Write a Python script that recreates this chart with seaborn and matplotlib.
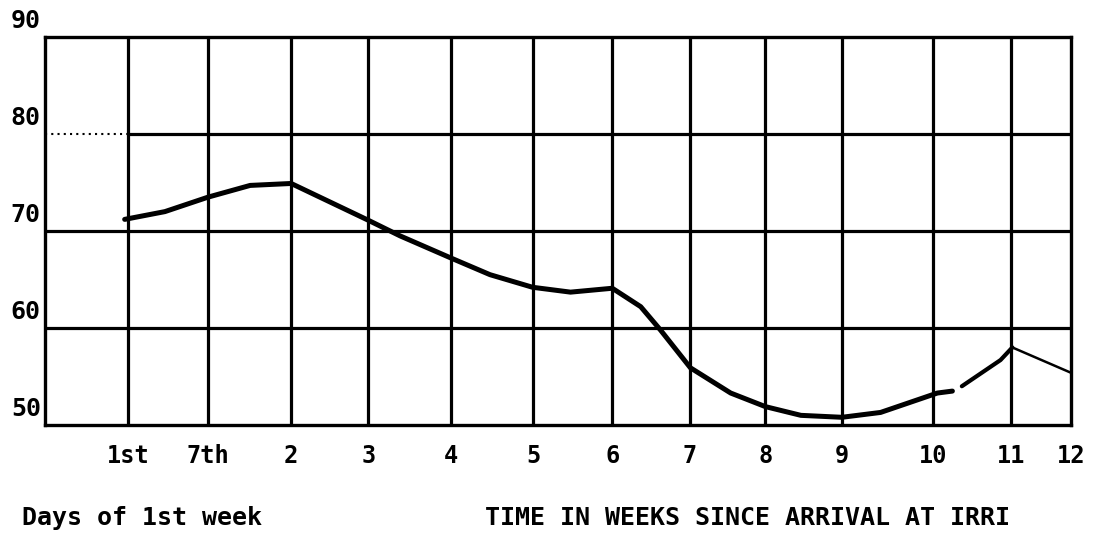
import numpy as np
import pandas as pd
import seaborn as sns
import matplotlib.pyplot as plt
from matplotlib.transforms import ScaledTranslation

# grid columns of the hand drawn chart (left border = 0, right border = 13)
grid_x = [1.05, 2.07, 3.12, 4.10, 5.15, 6.19, 7.19, 8.17, 9.13, 10.10, 11.26, 12.24, 13.0]
tick_labels = ["1st", "7th", "2", "3", "4", "5", "6", "7", "8", "9", "10", "11", "12"]
y_ticks = [50, 60, 70, 80, 90]
y_labels = ["50", "60", "70", "80", "90"]

# main curve (thick)
main_x = [1.01, 1.52, 2.07, 2.60, 3.12, 3.61, 4.10, 4.50, 5.15, 5.64, 6.18, 6.66,
          7.19, 7.55, 7.80, 8.18, 8.69, 9.13, 9.58, 10.10, 10.59, 11.31, 11.50]
main_y = [71.2, 72.0, 73.5, 74.7, 74.9, 73.0, 71.1, 69.5, 67.2, 65.5, 64.2, 63.7,
          64.1, 62.2, 59.8, 55.9, 53.3, 51.9, 51.0, 50.8, 51.3, 53.3, 53.5]
# piece after the break
late_x = [11.62, 12.11, 12.26]
late_y = [54.0, 56.7, 58.0]
# thin tail to week 12
tail_x = [12.26, 13.0]
tail_y = [58.0, 55.4]

sns.set_style("white")
plt.rcParams['font.family'] = ['DejaVu Sans Mono', 'DejaVu Sans']
plt.rcParams['text.color'] = 'black'
plt.rcParams['xtick.color'] = 'black'
plt.rcParams['ytick.color'] = 'black'

fig, ax = plt.subplots(figsize=(11.05, 5.36), dpi=100)
fig.subplots_adjust(left=0.0407, right=0.969, bottom=0.207, top=0.931)

# grid
ax.vlines(grid_x[:-1], 50, 90, color="black", lw=2.3, zorder=1)
ax.hlines([60, 70], 0, 13, color="black", lw=2.3, zorder=1)
ax.hlines(80, grid_x[0], 13, color="black", lw=2.3, zorder=1)
ax.hlines(80, 0, grid_x[0], color="black", lw=1.5, linestyles=(0, (1, 2)), zorder=1)

df_main = pd.DataFrame({"x": main_x, "y": main_y})
df_late = pd.DataFrame({"x": late_x, "y": late_y})
df_tail = pd.DataFrame({"x": tail_x, "y": tail_y})
sns.lineplot(data=df_main, x="x", y="y", ax=ax, color="black", lw=3.6,
             solid_capstyle="round", solid_joinstyle="round", zorder=3)
sns.lineplot(data=df_late, x="x", y="y", ax=ax, color="black", lw=3.0,
             solid_capstyle="round", solid_joinstyle="round", zorder=3)
sns.lineplot(data=df_tail, x="x", y="y", ax=ax, color="black", lw=1.8,
             solid_capstyle="round", zorder=3)

ax.set_xlim(0, 13)
ax.set_ylim(50, 90)
ax.set_xticks(grid_x)
ax.set_xticklabels(tick_labels, fontsize=17, fontweight="bold")
ax.set_yticks(y_ticks)
ax.set_yticklabels(y_labels, fontsize=18, fontweight="bold", va="bottom")
ax.tick_params(axis="x", length=0, pad=14)
ax.tick_params(axis="y", length=0, pad=3)
# the small hand-drawn tick at 60
ax.set_yticks([60], minor=True)
ax.tick_params(axis="y", which="minor", left=True, length=12, width=1.5,
               direction="inout")
for lab in ax.get_yticklabels():
    lab.set_transform(lab.get_transform() + ScaledTranslation(0, 3 / 72, fig.dpi_scale_trans))
ax.set_xlabel("")
ax.set_ylabel("")

for s in ax.spines.values():
    s.set_visible(True)
    s.set_color("black")
    s.set_linewidth(2.4)

fig.text(22 / 1105, 1 - 518 / 536, "Days of 1st week", fontsize=18, fontweight="bold", va="center")
fig.text(485 / 1105, 1 - 518 / 536, "TIME IN WEEKS SINCE ARRIVAL AT IRRI", fontsize=18,
         fontweight="bold", va="center")

plt.savefig("out.png", dpi=100)
